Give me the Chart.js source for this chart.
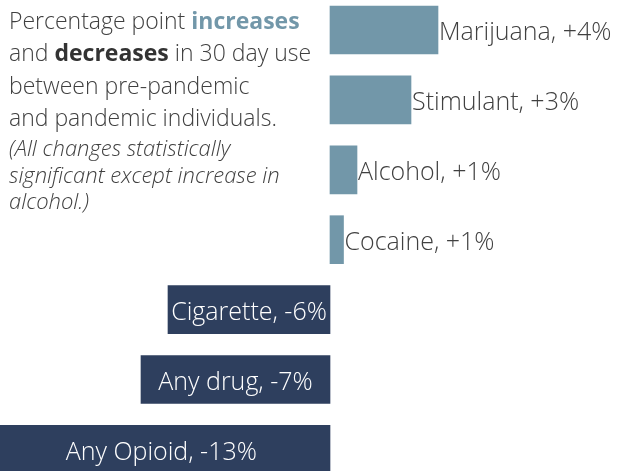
<!DOCTYPE html>
<html>
<head>
<meta charset="utf-8">
<script src="https://cdn.jsdelivr.net/npm/chart.js@4"></script>
<style>
  html, body { margin: 0; padding: 0; background: #fff; overflow: hidden; }
  #wrap { position: relative; width: 618px; height: 471px; }
  #chart { position: absolute; left: 0; top: 0; }
  #note {
    position: absolute; left: 9px; top: 4px; white-space: nowrap;
    font-family: "Open Sans", sans-serif; font-weight: 300;
    color: #404040; font-size: 23px; line-height: 32.3px;
  }
  #note .inc { color: #7297a9; font-weight: 700; }
  #note .dec { color: #333; font-weight: 700; }
  #note .sub { font-style: italic; font-size: 22px; line-height: 26.5px; display: block; margin-top: 1px; }
</style>
</head>
<body>
<div id="wrap">
  <canvas id="chart" width="618" height="471"></canvas>
  <div id="note">
    Percentage point <span class="inc">increases</span><br>
    and <span class="dec">decreases</span> in 30 day use<br>
    between pre-pandemic<br>
    and pandemic individuals.
    <span class="sub">(All changes statistically<br>significant except increase in<br>alcohol.)</span>
  </div>
</div>
<script>
// --- Data ---
const categories = ['Marijuana', 'Stimulant', 'Alcohol', 'Cocaine', 'Cigarette', 'Any drug', 'Any Opioid'];
const changes = [4.0, 3.0, 1.0, 0.5, -6.0, -7.0, -12.5];
const labelText = ['+4%', '+3%', '+1%', '+1%', '-6%', '-7%', '-13%'];

const upColor = '#7297a9';
const downColor = '#2e3f5e';

// Labels: outside right for increases, centred inside for decreases
const barLabels = {
    id: 'barLabels',
    afterDatasetsDraw(chart) {
        const ctx = chart.ctx;
        const meta = chart.getDatasetMeta(0);
        ctx.save();
        ctx.font = '300 25px "Open Sans", sans-serif';
        ctx.textBaseline = 'middle';
        meta.data.forEach((bar, i) => {
            const txt = categories[i] + ', ' + labelText[i];
            const y = bar.y + 3;  // optical centring
            if (changes[i] >= 0) {
                ctx.fillStyle = '#404040';
                ctx.textAlign = 'left';
                ctx.fillText(txt, bar.x + 1, y);
            } else {
                ctx.fillStyle = '#ffffff';
                ctx.textAlign = 'center';
                ctx.fillText(txt, (bar.x + bar.base) / 2, y);
            }
        });
        ctx.restore();
    }
};

new Chart(document.getElementById('chart'), {
    type: 'bar',
    data: {
        labels: categories,
        datasets: [{
            data: changes,
            backgroundColor: changes.map(v => v >= 0 ? upColor : downColor),
            borderWidth: 0,
            barThickness: 48,
            clip: false,
        }]
    },
    options: {
        indexAxis: 'y',
        responsive: false,
        animation: false,
        layout: { padding: { top: 30, bottom: 21.6, left: 0, right: 0 } },
        plugins: { legend: { display: false }, tooltip: { enabled: false } },
        scales: {
            x: { display: false, min: -330 / 27, max: 288 / 27 },
            y: { display: false, offset: false }
        }
    },
    plugins: [barLabels]
});
</script>
</body>
</html>
